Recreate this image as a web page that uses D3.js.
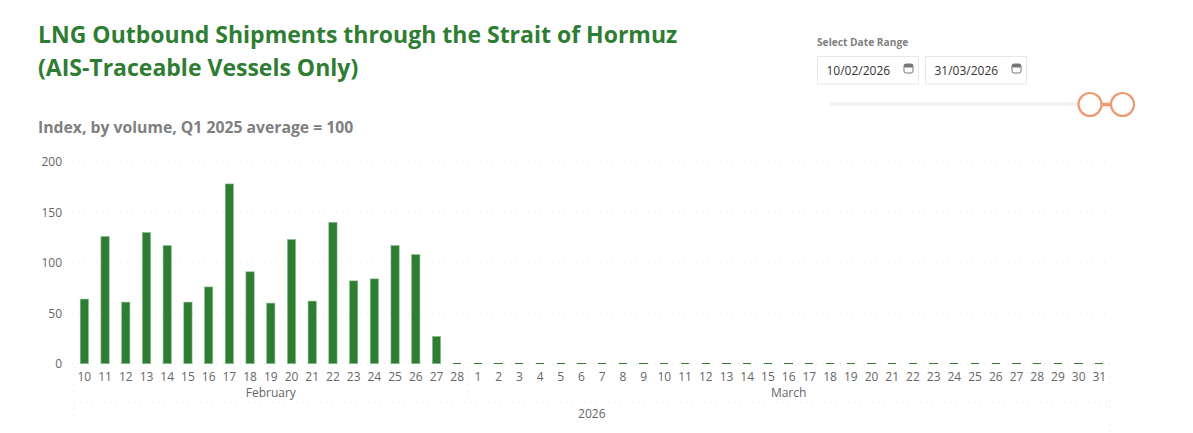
<!DOCTYPE html>
<html>
<head>
    <meta charset="utf-8">
    <title>LNG Outbound Shipments through the Strait of Hormuz</title>
    <style>
        body {
            margin: 0;
            background: #fff;
            overflow: hidden;
        }

        svg text {
            font-family: "Open Sans", "Noto Sans", sans-serif;
        }

        .title {
            font-size: 23px;
            font-weight: 700;
            fill: #2e7d32;
        }

        .subtitle {
            font-size: 15.75px;
            font-weight: 700;
            fill: #808080;
        }

        .axis text {
            font-size: 12px;
            fill: #666;
        }

        .axis path, .axis line {
            display: none;
        }

        .grid {
            stroke: #e2e2e2;
            stroke-width: 1px;
            stroke-dasharray: 1 5;
        }

        .bar {
            fill: #2e7d32;
            stroke: #8fc093;
            stroke-width: 0.6px;
        }

        .bar.flat {
            stroke: none;
            shape-rendering: crispEdges;
        }

        .slicer-label {
            font-size: 10.2px;
            font-weight: 700;
            fill: #808080;
        }

        .slicer-date {
            font-size: 12px;
            fill: #333;
        }

        .date-box {
            fill: #fff;
            stroke: #e8e8e8;
        }
    </style>
</head>
<body>
    <svg id="chart" width="1193" height="433"></svg>
    <script src="https://d3js.org/d3.v7.min.js"></script>
    <script>
        // Chart data
        var febDays = [10, 11, 12, 13, 14, 15, 16, 17, 18, 19, 20, 21, 22, 23, 24, 25, 26, 27, 28];
        var marDays = [1, 2, 3, 4, 5, 6, 7, 8, 9, 10, 11, 12, 13, 14, 15, 16, 17, 18, 19, 20, 21, 22, 23, 24, 25, 26, 27, 28, 29, 30, 31];
        var febValues = [64, 126, 61, 130, 117, 61, 76, 178, 91, 60, 123, 62, 140, 82, 84, 117, 108, 27, 1];
        var marValues = [1, 1, 1, 1, 1, 1, 1, 1, 1, 1, 1, 1, 1, 1, 1, 1, 1, 1, 1, 1, 1, 1, 1, 1, 1, 1, 1, 1, 1, 1, 1];
        var yTicks = [0, 50, 100, 150, 200];
        var titleLines = ["LNG Outbound Shipments through the Strait of Hormuz", "(AIS-Traceable Vessels Only)"];
        var subtitle = "Index, by volume, Q1 2025 average = 100";
        var sliderDates = ["10/02/2026", "31/03/2026"];

        var rows = febDays.map(function(d, i) {
            return { key: "Feb-" + d, label: d, value: febValues[i] };
        }).concat(marDays.map(function(d, i) {
            return { key: "Mar-" + d, label: d, value: marValues[i] };
        }));

        var svg = d3.select("#chart");

        // Scales
        var x = d3.scaleBand()
            .domain(rows.map(function(d) { return d.key; }))
            .range([74, 1109.7])
            .paddingInner(0.6)
            .paddingOuter(0.3);

        var y = d3.scaleLinear()
            .domain([0, 200])
            .range([363.7, 161.7]);

        // Titles
        svg.selectAll(".title")
            .data(titleLines)
            .enter().append("text")
            .attr("class", "title")
            .attr("x", 38)
            .attr("y", function(d, i) { return 43 + i * 33; })
            .text(function(d) { return d; });

        svg.append("text")
            .attr("class", "subtitle")
            .attr("x", 38)
            .attr("y", 133)
            .text(subtitle);

        // Gridlines
        svg.append("g").selectAll("line")
            .data(yTicks)
            .enter().append("line")
            .attr("class", "grid")
            .attr("x1", 72)
            .attr("x2", 1110)
            .attr("y1", function(d) { return y(d); })
            .attr("y2", function(d) { return y(d); });

        // Axes
        svg.append("g")
            .attr("class", "axis")
            .attr("transform", "translate(68,0)")
            .call(d3.axisLeft(y).tickValues(yTicks).tickSize(0).tickPadding(6))
            .select(".domain").remove();

        svg.append("g")
            .attr("class", "axis")
            .attr("transform", "translate(0,369)")
            .call(d3.axisBottom(x).tickSize(0).tickPadding(3).tickFormat(function(k) {
                return k.split("-")[1];
            }))
            .select(".domain").remove();

        // Bars
        svg.append("g").selectAll("rect")
            .data(rows)
            .enter().append("rect")
            .attr("class", function(d) { return d.value <= 1 ? "bar flat" : "bar"; })
            .attr("x", function(d) { return x(d.key); })
            .attr("width", x.bandwidth())
            .attr("y", function(d) { return y(d.value); })
            .attr("height", function(d) { return y(0) - y(d.value); });

        // Month and year hierarchy
        var step = x.step();
        var left = 74;
        var monthEdge = left + febDays.length * step;
        var right = left + rows.length * step;

        var dividers = [
            [left, left, 367, 433],
            [monthEdge, monthEdge, 367, 402],
            [right, right, 364, 433],
            [left, right, 402, 402]
        ];
        svg.append("g").selectAll("line")
            .data(dividers)
            .enter().append("line")
            .attr("class", "grid")
            .attr("x1", function(d) { return d[0]; })
            .attr("x2", function(d) { return d[1]; })
            .attr("y1", function(d) { return d[2]; })
            .attr("y2", function(d) { return d[3]; });

        var groupLabels = [
            { text: "February", x: (left + monthEdge) / 2, y: 397 },
            { text: "March", x: (monthEdge + right) / 2, y: 397 },
            { text: "2026", x: (left + right) / 2, y: 418 }
        ];
        svg.append("g")
            .attr("class", "axis")
            .selectAll("text")
            .data(groupLabels)
            .enter().append("text")
            .attr("text-anchor", "middle")
            .attr("x", function(d) { return d.x; })
            .attr("y", function(d) { return d.y; })
            .text(function(d) { return d.text; });

        // Date range slicer
        svg.append("text")
            .attr("class", "slicer-label")
            .attr("x", 817)
            .attr("y", 46)
            .text("Select Date Range");

        var box = svg.append("g").selectAll("g")
            .data(sliderDates)
            .enter().append("g")
            .attr("transform", function(d, i) { return "translate(" + (817.5 + i * 108) + ",56.5)"; });

        box.append("rect")
            .attr("class", "date-box")
            .attr("width", 101)
            .attr("height", 27.5);

        box.append("text")
            .attr("class", "slicer-date")
            .attr("x", 9)
            .attr("y", 18.5)
            .text(function(d) { return d; });

        // small calendar icon
        box.append("rect")
            .attr("x", 86.5)
            .attr("y", 7.5)
            .attr("width", 9)
            .attr("height", 9)
            .attr("rx", 2)
            .attr("fill", "#fff")
            .attr("stroke", "#777");

        box.append("rect")
            .attr("x", 86.5)
            .attr("y", 7.5)
            .attr("width", 9)
            .attr("height", 3.5)
            .attr("rx", 1.5)
            .attr("fill", "#777");

        // Slider
        svg.append("line")
            .attr("x1", 830)
            .attr("x2", 1090)
            .attr("y1", 104)
            .attr("y2", 104)
            .attr("stroke", "#f0f0f0")
            .attr("stroke-width", 3);

        svg.append("line")
            .attr("x1", 1090)
            .attr("x2", 1122)
            .attr("y1", 104.5)
            .attr("y2", 104.5)
            .attr("stroke", "#ee9a70")
            .attr("stroke-width", 3.5);

        svg.append("g").selectAll("circle")
            .data([1090, 1122.5])
            .enter().append("circle")
            .attr("cx", function(d) { return d; })
            .attr("cy", 104.5)
            .attr("r", 11.5)
            .attr("fill", "#fff")
            .attr("stroke", "#ee9a70")
            .attr("stroke-width", 2.2);
    </script>
</body>
</html>
